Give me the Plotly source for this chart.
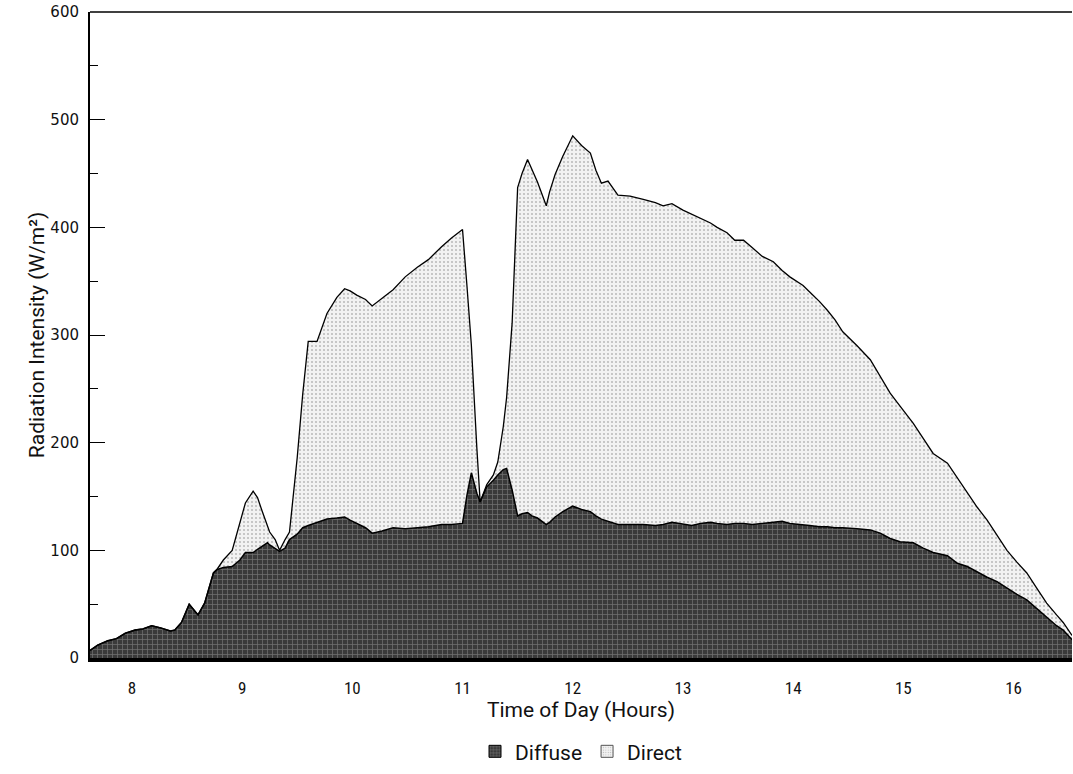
import plotly.graph_objects as go

# Time of day (hours)
hours = [7.62, 7.69, 7.78, 7.86, 7.94, 8.03, 8.10, 8.18, 8.26, 8.35, 8.39, 8.45, 8.52, 8.60, 8.66, 8.74,
         8.77, 8.83, 8.91, 8.98, 9.03, 9.10, 9.14, 9.18, 9.23, 9.25, 9.30, 9.34, 9.39, 9.43, 9.50, 9.55,
         9.60, 9.68, 9.77, 9.86, 9.93, 9.98, 10.04, 10.12, 10.18, 10.27, 10.37, 10.48, 10.59, 10.69, 10.81,
         10.90, 11.00, 11.04, 11.08, 11.13, 11.16, 11.22, 11.28, 11.32, 11.37, 11.40, 11.45, 11.50, 11.54,
         11.59, 11.63, 11.68, 11.76, 11.79, 11.84, 11.91, 12.00, 12.08, 12.16, 12.21, 12.26, 12.32, 12.41,
         12.52, 12.64, 12.75, 12.82, 12.90, 13.00, 13.08, 13.16, 13.25, 13.31, 13.40, 13.47, 13.55, 13.63,
         13.72, 13.82, 13.90, 13.97, 14.09, 14.15, 14.24, 14.31, 14.38, 14.45, 14.58, 14.70, 14.79, 14.88,
         14.97, 15.09, 15.18, 15.27, 15.40, 15.49, 15.58, 15.67, 15.76, 15.85, 15.94, 16.03, 16.12, 16.21,
         16.30, 16.39, 16.45, 16.53]

# Diffuse radiation (W/m2)
diffuse = [7, 12, 16, 18, 23, 26, 27, 30, 28, 25, 26, 33, 50, 40, 51, 79,
           82, 84, 85, 91, 98, 98, 101, 104, 107, 105, 102, 99, 102, 110, 115, 121,
           123, 126, 129, 130, 131, 128, 125, 121, 116, 118, 121, 120, 121, 122, 124,
           124, 125, 151, 172, 153, 145, 159, 165, 170, 175, 176, 156, 132, 134,
           135, 132, 130, 124, 126, 131, 136, 141, 138, 136, 132, 129, 127, 124,
           124, 124, 123, 124, 126, 124, 123, 125, 126, 125, 124, 125, 125, 124,
           125, 126, 127, 125, 124, 123, 122, 122, 121, 121, 120, 119, 116, 111,
           108, 107, 102, 98, 95, 88, 85, 80, 75, 71, 65, 59, 54, 46,
           38, 30, 26, 17]

# Direct radiation (W/m2), stacked on top of diffuse
direct = [0, 0, 0, 0, 0, 0, 0, 0, 0, 0, 0, 0, 0, 0, 0, 0,
          0, 7, 15, 34, 46, 57, 48, 33, 17, 12, 8, 1, 8, 7, 71, 124,
          171, 168, 191, 205, 212, 213, 212, 212, 211, 216, 221, 234, 242, 248, 258,
          266, 273, 195, 119, 42, 0, 2, 5, 12, 40, 66, 155, 305, 316,
          328, 321, 312, 296, 307, 318, 330, 344, 338, 333, 321, 312, 316, 306,
          305, 302, 300, 296, 296, 292, 289, 283, 278, 275, 271, 263, 263, 257,
          248, 242, 233, 229, 222, 217, 209, 201, 193, 182, 170, 158, 146, 135,
          126, 111, 102, 92, 86, 79, 68, 60, 53, 43, 35, 30, 25, 19,
          13, 10, 7, 4]

hour_ticks = [8, 9, 10, 11, 12, 13, 14, 15, 16]

DIFFUSE_PATTERN = dict(shape="+", bgcolor="#3a3a3a", fgcolor="#b0b0b0", size=5, solidity=0.25)
DIRECT_PATTERN = dict(shape=".", bgcolor="#f2f2f2", fgcolor="#858585", size=4, solidity=0.22)

fig = go.Figure()
fig.add_trace(go.Scatter(
    x=hours, y=diffuse, name="Diffuse", mode="lines", stackgroup="one", showlegend=False,
    line=dict(color="black", width=1.5), fillcolor="#3e3e3e", fillpattern=DIFFUSE_PATTERN,
))
fig.add_trace(go.Scatter(
    x=hours, y=direct, name="Direct", mode="lines", stackgroup="one", showlegend=False,
    line=dict(color="black", width=1.3), fillcolor="#ececec", fillpattern=DIRECT_PATTERN,
))
# legend swatches (no data)
fig.add_trace(go.Bar(x=[None], y=[None], name="Diffuse",
                     marker=dict(color="#3a3a3a", pattern=dict(shape="+", fgcolor="#b0b0b0", size=4, solidity=0.3),
                                 line=dict(color="black", width=1))))
fig.add_trace(go.Bar(x=[None], y=[None], name="Direct",
                     marker=dict(color="#f2f2f2", pattern=dict(shape=".", fgcolor="#858585", size=3, solidity=0.2),
                                 line=dict(color="#555", width=1))))

fig.update_layout(
    width=1073, height=774,
    margin=dict(l=90, r=1, t=12, b=116),
    paper_bgcolor="white", plot_bgcolor="white",
    showlegend=True,
    legend=dict(orientation="h", x=0.5, xanchor="center", y=-0.145, yanchor="middle",
                font=dict(family="Roboto, Lato, sans-serif", size=21, color="#111"),
                traceorder="normal", itemwidth=30),
    font=dict(family="Lato, sans-serif", color="#111"),
    shapes=[dict(type="line", xref="paper", yref="paper", x0=0, x1=1, y0=1, y1=1,
                 line=dict(color="black", width=1.5))],
)
fig.update_xaxes(
    range=[7.62, 16.53], tickvals=hour_ticks, ticks="", showgrid=False, zeroline=False,
    showline=True, linecolor="black", linewidth=4, ticklabelstandoff=12,
    tickfont=dict(family="Liberation Sans Narrow, Roboto Condensed, Roboto, sans-serif", size=17),
    title=dict(text="Time of Day (Hours)", font=dict(family="Roboto, Lato, sans-serif", size=21), standoff=4),
)
fig.update_yaxes(
    range=[0, 600], dtick=100, ticks="inside", ticklen=15, tickwidth=1, tickcolor="black",
    minor=dict(dtick=50, ticks="inside", ticklen=8, tickcolor="black"),
    showgrid=False, zeroline=False, showline=True, linecolor="black", linewidth=2,
    ticklabelstandoff=6,
    tickfont=dict(family="DejaVu Sans, sans-serif", size=15),
    title=dict(text="Radiation Intensity (W/m²)", font=dict(family="Roboto, Lato, sans-serif", size=21), standoff=0),
)

fig.write_html("out.html")
